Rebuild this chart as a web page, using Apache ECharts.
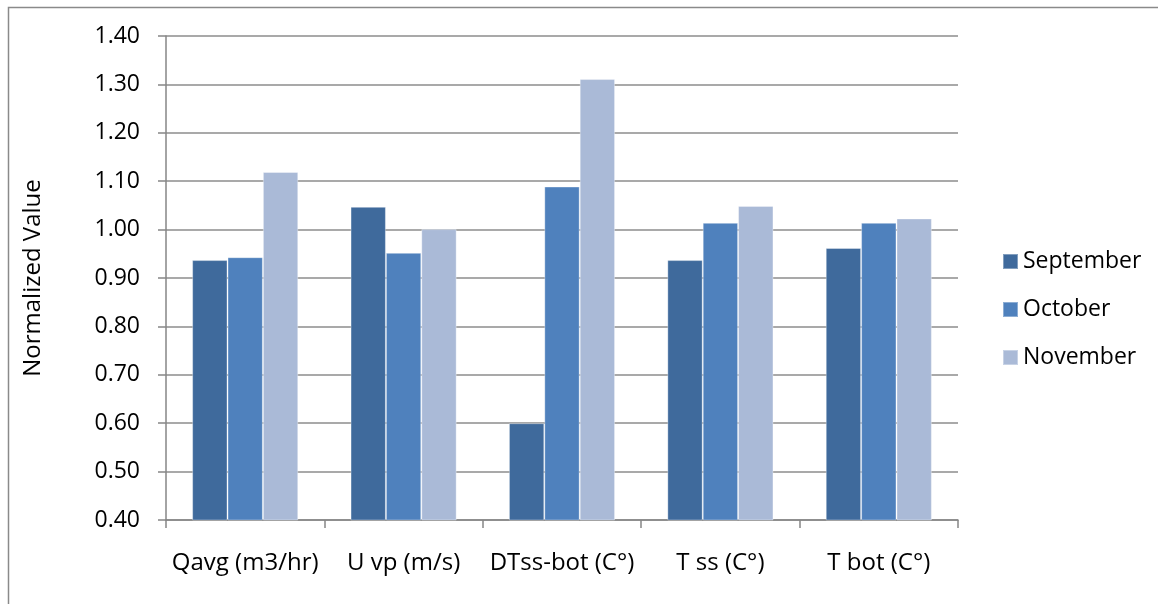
<!DOCTYPE html>
<html>
<head>
<meta charset="utf-8">
<script src="https://cdn.jsdelivr.net/npm/echarts@6/dist/echarts.min.js"></script>
<style>
html,body{margin:0;padding:0;background:#fff;}
#chart{width:1158px;height:604px;}
</style>
</head>
<body>
<div id="chart"></div>
<script>
const categories = ['Qavg (m3/hr)', 'U vp (m/s)', 'DTss-bot (C°)', 'T ss (C°)', 'T bot (C°)'];
const seriesNames = ['September', 'October', 'November'];
const september = [0.937, 1.047, 0.600, 0.937, 0.962];
const october = [0.943, 0.952, 1.089, 1.014, 1.014];
const november = [1.119, 1.001, 1.311, 1.049, 1.023];
const yTicks = { min: 0.4, max: 1.4, interval: 0.1 };
const yTitle = 'Normalized Value';

const colors = ['#3F6A9C', '#4F81BD', '#AABAD7'];
const font = 'Open Sans';
const chart = echarts.init(document.getElementById('chart'), null, { renderer: 'canvas' });
const mk = (name, data, i) => ({
  name, type: 'bar', data,
  barGap: '0%', barCategoryGap: '33%',
  itemStyle: { color: colors[i], borderColor: 'rgba(255,255,255,0.35)', borderWidth: 1 },
  emphasis: { disabled: true }
});
chart.setOption({
  animation: false,
  textStyle: { fontFamily: font },
  graphic: [{
    type: 'rect', shape: { x: 8.5, y: 7.5, width: 1200, height: 700 },
    style: { fill: 'none', stroke: '#8a8a8a', lineWidth: 1.5 }, silent: true
  }],
  grid: { left: 166, right: 200, top: 36, bottom: 84 },
  legend: {
    orient: 'vertical', left: 997, top: 245,
    icon: 'rect', itemWidth: 15, itemHeight: 15, itemGap: 25,
    textStyle: { fontFamily: font, fontSize: 23, color: '#000' },
    data: seriesNames
  },
  xAxis: {
    type: 'category', data: categories,
    axisLine: { lineStyle: { color: '#868686', width: 1.5 } },
    axisTick: { show: true, length: 8, alignWithLabel: false, lineStyle: { color: '#868686', width: 1.5 } },
    axisLabel: { color: '#000', fontSize: 24, fontFamily: font, margin: 31, interval: 0 }
  },
  yAxis: {
    type: 'value', min: yTicks.min, max: yTicks.max, interval: yTicks.interval,
    name: yTitle, nameLocation: 'middle', nameGap: 121,
    nameTextStyle: { color: '#000', fontSize: 24, fontFamily: font },
    axisLine: { show: true, lineStyle: { color: '#868686', width: 1.5 } },
    axisTick: { show: true, length: 8, lineStyle: { color: '#868686', width: 1.5 } },
    axisLabel: { color: '#000', fontSize: 23, fontFamily: font, margin: 26, formatter: v => v.toFixed(2) },
    splitLine: { lineStyle: { color: '#8c8c8c', width: 1.5 } }
  },
  series: [mk(seriesNames[0], september, 0), mk(seriesNames[1], october, 1), mk(seriesNames[2], november, 2)]
});
</script>
</body>
</html>
